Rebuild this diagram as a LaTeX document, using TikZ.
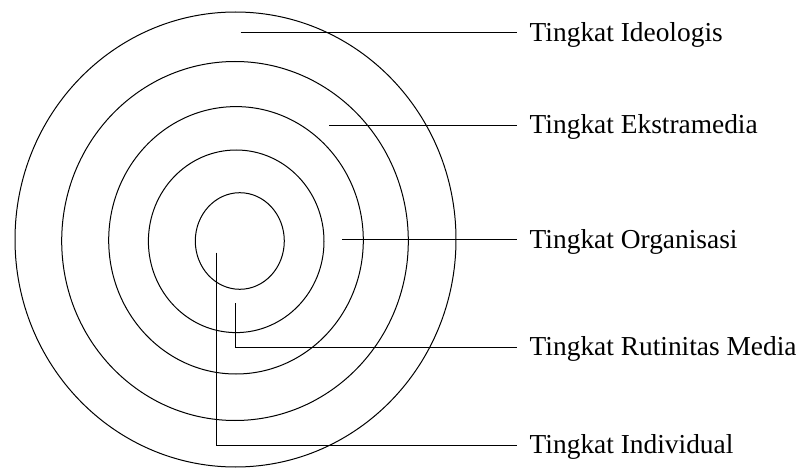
\documentclass[tikz,border=0pt]{standalone}
\usepackage{fontspec}
\setmainfont{Liberation Serif}
\begin{document}
\begin{tikzpicture}[x=1pt,y=-1pt,line width=1pt,
  lbl/.style={anchor=west,inner xsep=12.5pt,inner ysep=0pt,text height=17pt,text depth=0pt,
    font=\fontsize{27.4}{32}\selectfont},
  ring/.style={draw=black}]
\useasboundingbox (0,0) rectangle (804,468);
% rings
\draw[ring] (235.5,239.5) ellipse [x radius=220.5, y radius=227.5];
\draw[ring] (235,241) ellipse [x radius=173.3, y radius=179.5];
\draw[ring] (236,240.3) ellipse [x radius=127.3, y radius=133.7];
\draw[ring] (236.2,241.3) ellipse [x radius=87.8, y radius=91.3];
\draw[ring] (239.8,241) ellipse [x radius=44.5, y radius=48.3];
% labels
\node[lbl] (l1) at (516.7,32.8) {Tingkat Ideologis};
\node[lbl] (l2) at (516.7,125.3) {Tingkat Ekstramedia};
\node[lbl] (l3) at (516.7,240) {Tingkat Organisasi};
\node[lbl] (l4) at (516.7,347) {Tingkat Rutinitas Media};
\node[lbl] (l5) at (516.7,445) {Tingkat Individual};
% start points
\coordinate (s1) at (240.7,32.8);
\coordinate (s2) at (329,125.3);
\coordinate (s3) at (342.3,240);
\coordinate (s4) at (235.2,303.3);
\coordinate (s5) at (216,252.7);
% connectors
\draw (s1) -- (l1.west);
\draw (s2) -- (l2.west);
\draw (s3) -- (l3.west);
\draw (s4) |- (l4.west);
\draw (s5) |- (l5.west);
\end{tikzpicture}
\end{document}
